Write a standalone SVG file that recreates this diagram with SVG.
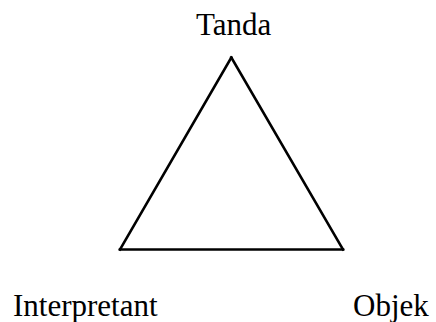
<svg xmlns="http://www.w3.org/2000/svg" width="436" height="322" viewBox="0 0 436 322">
<style>
.lbl{font-family:"Liberation Serif","Times New Roman",serif;font-size:31px;fill:#000}
.edge{stroke:#000;stroke-width:2.6;fill:none;stroke-linecap:square}
</style>
<rect width="436" height="322" fill="#fff"/>
<g id="connectors">
<line class="edge" x1="231.3" y1="57.5" x2="120" y2="249.5"/>
<line class="edge" x1="231.3" y1="57.5" x2="343" y2="249.5"/>
<line class="edge" x1="120" y1="249.5" x2="343" y2="249.5"/>
</g>
<g id="tanda"><text class="lbl" x="196" y="35">Tanda</text></g>
<g id="interpretant"><text class="lbl" x="13" y="316">Interpretant</text></g>
<g id="objek"><text class="lbl" x="353" y="316">Objek</text></g>
</svg>
